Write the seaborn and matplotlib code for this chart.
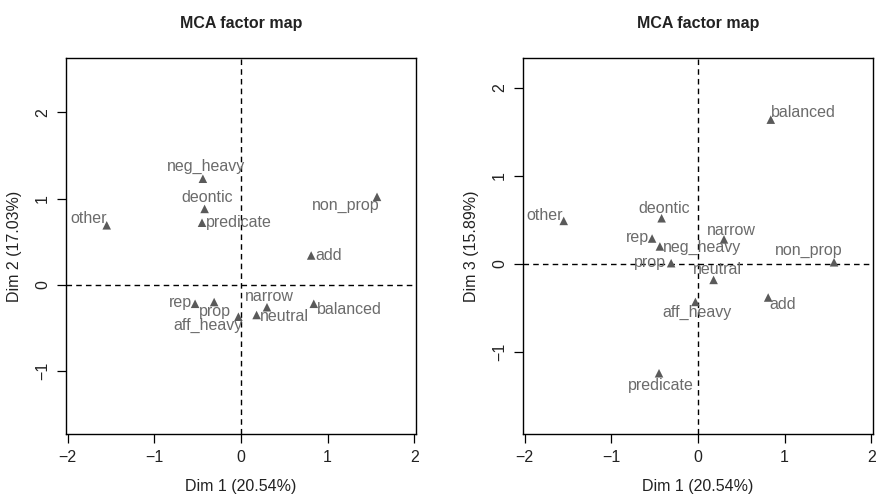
import matplotlib
matplotlib.use("Agg")
import matplotlib.pyplot as plt
import seaborn as sns
import pandas as pd

# Category coordinates on the first three MCA dimensions
categories = ["other", "neg_heavy", "deontic", "predicate", "non_prop", "add",
              "rep", "prop", "aff_heavy", "narrow", "neutral", "balanced"]
dim1 = [-1.55, -0.44, -0.42, -0.45, 1.57, 0.81, -0.53, -0.31, -0.03, 0.30, 0.18, 0.84]
dim2 = [0.69, 1.23, 0.88, 0.72, 1.02, 0.34, -0.22, -0.20, -0.37, -0.26, -0.35, -0.22]
dim3 = [0.49, 0.20, 0.52, -1.24, 0.02, -0.38, 0.29, 0.01, -0.43, 0.28, -0.18, 1.64]

x_ticks = [-2, -1, 0, 1, 2]
x_label = "Dim 1 (20.54%)"
y2_label = "Dim 2 (17.03%)"
y3_label = "Dim 3 (15.89%)"
title = "MCA factor map"

# Label offsets (pixels) from each marker, chosen to avoid overlaps
offsets_12 = {"other": (-18, 7), "neg_heavy": (3, 12), "deontic": (3, 11),
              "predicate": (37, 0), "non_prop": (-31, -9), "add": (18, 0),
              "rep": (-15, 1), "prop": (1, -9), "aff_heavy": (-30, -9),
              "narrow": (2, 11), "neutral": (28, -2), "balanced": (36, -6)}
offsets_13 = {"other": (-19, 5), "neg_heavy": (42, -1), "deontic": (3, 10),
              "predicate": (2, -12), "non_prop": (-25, 12), "add": (15, -7),
              "rep": (-15, 1), "prop": (-21, 1), "aff_heavy": (2, -11),
              "narrow": (7, 9), "neutral": (4, 10), "balanced": (33, 7)}

df = pd.DataFrame({"category": categories, "dim1": dim1, "dim2": dim2, "dim3": dim3})

sns.set_theme(style="white")
plt.rcParams["font.family"] = ["Liberation Sans", "DejaVu Sans"]
plt.rcParams["axes.unicode_minus"] = True

DPI = 100
fig = plt.figure(figsize=(8.81, 4.98), dpi=DPI)
W, H = 881, 498
px = 72.0 / DPI  # points per pixel

mark_col = "#5a5a5a"
text_col = "#6b6b6b"
fs = 11.5


def panel(rect, ycol, ylim, yticks, ylab, offs):
    l, t, r, b = rect
    ax = fig.add_axes([l / W, 1 - b / H, (r - l) / W, (b - t) / H])
    sns.scatterplot(data=df, x="dim1", y=ycol, marker="^", s=38, color=mark_col,
                    edgecolor="none", ax=ax, zorder=3)
    ax.axhline(0, color="black", ls=(0, (4, 3)), lw=1.0, zorder=1)
    ax.axvline(0, color="black", ls=(0, (4, 3)), lw=1.0, zorder=1)
    for cat, xv, yv in zip(df["category"], df["dim1"], df[ycol]):
        dx, dy = offs[cat]
        ax.annotate(cat, (xv, yv), xytext=(dx * px, dy * px), textcoords="offset points",
                    ha="center", va="center", fontsize=fs, color=text_col, zorder=4)
    ax.set_xlim(-2.02, 2.02)
    ax.set_ylim(*ylim)
    ax.set_xticks(x_ticks)
    ax.set_yticks(yticks)
    ax.set_xticklabels([str(v).replace("-", "\u2212") for v in x_ticks])
    ax.set_yticklabels([str(v).replace("-", "\u2212") for v in yticks],
                       rotation=90, va="center")
    ax.tick_params(axis="both", direction="out", length=9 * px, width=0.9,
                   color="black", labelsize=fs, labelcolor="#222222", pad=7 * px,
                   bottom=True, left=True)
    for s in ax.spines.values():
        s.set_color("black")
        s.set_linewidth(1.0)
    ax.set_xlabel(x_label, fontsize=fs, color="#222222", labelpad=14 * px)
    ax.set_ylabel(ylab, fontsize=fs, color="#222222", labelpad=13 * px)
    ax.set_title(title, fontsize=fs, fontweight="bold", color="#222222", pad=30 * px)
    return ax


panel((66, 58, 416, 434), "dim2", (-1.73, 2.63), [-1, 0, 1, 2], y2_label, offsets_12)
panel((523, 58, 873, 434), "dim3", (-1.93, 2.34), [-1, 0, 1, 2], y3_label, offsets_13)

fig.savefig("out.png", dpi=DPI, facecolor="white")
